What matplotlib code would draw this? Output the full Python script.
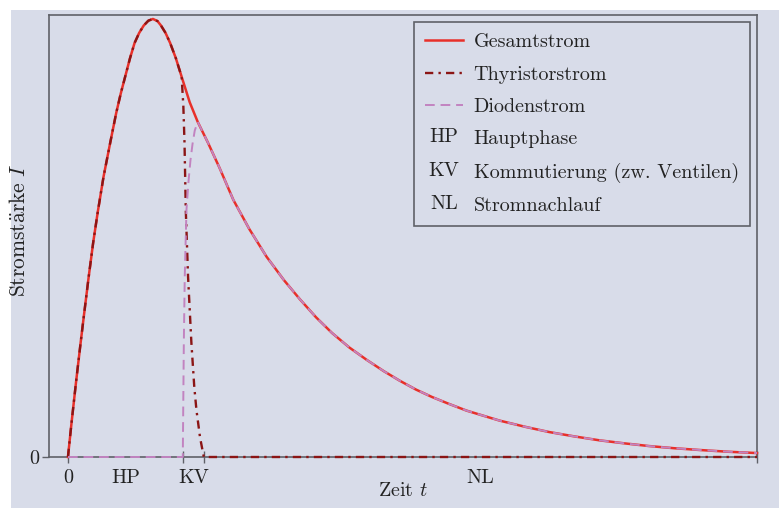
import matplotlib
matplotlib.use("Agg")
import matplotlib.pyplot as plt
import matplotlib.text as mtext
from matplotlib.legend_handler import HandlerBase
from matplotlib.lines import Line2D
from matplotlib.patches import Rectangle

# ==========================================================
# DATA (arbitrary units)
# ==========================================================
gesamt_t = [0.0, 0.03, 0.07, 0.11, 0.14, 0.18, 0.22, 0.26, 0.31, 0.37, 0.42, 0.46,
            0.50, 0.54, 0.58, 0.62, 0.66, 0.70, 0.74, 0.78, 0.81, 0.85, 0.89, 0.94,
            0.99, 1.06, 1.13, 1.22, 1.32, 1.44, 1.58, 1.73, 1.88, 2.02, 2.16, 2.30,
            2.45, 2.60, 2.75, 2.89, 3.03, 3.17, 3.32, 3.47, 3.62, 3.76, 3.98, 4.19,
            4.41, 4.63, 4.85, 5.06, 5.28, 5.50, 5.75, 6.00]
gesamt_i = [0.0, 0.075, 0.17, 0.26, 0.325, 0.41, 0.49, 0.56, 0.64, 0.72, 0.785, 0.83,
            0.87, 0.91, 0.945, 0.968, 0.985, 0.996, 1.0, 0.995, 0.985, 0.968, 0.945, 0.91,
            0.868, 0.81, 0.765, 0.717, 0.66, 0.587, 0.52, 0.457, 0.404, 0.360, 0.319, 0.283,
            0.250, 0.222, 0.196, 0.174, 0.154, 0.137, 0.121, 0.106, 0.094, 0.083, 0.069, 0.057,
            0.047, 0.038, 0.031, 0.025, 0.020, 0.016, 0.012, 0.009]

# thyristor follows the total current up to the start of commutation, then drops
thyr_drop_t = [1.005, 1.015, 1.026, 1.046, 1.075, 1.10, 1.119, 1.15, 1.183, 6.0]
thyr_drop_i = [0.80, 0.717, 0.564, 0.411, 0.26, 0.16, 0.107, 0.045, 0.0, 0.0]

# diode is zero during the main phase, then rises and takes over the total current
diode_rise_t = [0.0, 1.0, 1.009, 1.017, 1.032, 1.05, 1.067, 1.085, 1.104]
diode_rise_i = [0.0, 0.0, 0.26, 0.411, 0.564, 0.63, 0.678, 0.715, 0.745]

kv_start, kv_end, t_end = 1.0, 1.183, 6.0
phase_labels = ["HP", "KV", "NL"]
legend_lines = ["Gesamtstrom", "Thyristorstrom", "Diodenstrom"]
legend_abbrev = ["Hauptphase", "Kommutierung (zw. Ventilen)", "Stromnachlauf"]

BG = "#d8dce9"
RED = "#e8302a"
DARKRED = "#8b1515"
PURPLE = "#c283c0"
GRAY = "#5f6168"
INK = "#222222"
FS = 14.5

plt.rcParams["font.family"] = ["cmr10", "DejaVu Serif"]
plt.rcParams["mathtext.fontset"] = "cm"
plt.rcParams["axes.unicode_minus"] = False


class Abbrev:
    def __init__(self, text):
        self.text = text


class AbbrevHandler(HandlerBase):
    # draws the abbreviation as text in place of a line handle
    def create_artists(self, legend, orig_handle, xdescent, ydescent,
                       width, height, fontsize, trans):
        t = mtext.Text(width / 2 - xdescent, height / 2 - ydescent, orig_handle.text,
                       ha="center", va="center", fontsize=fontsize,
                       color=INK, transform=trans)
        return [t]


fig = plt.figure(figsize=(7.79, 5.08), dpi=100, facecolor=BG)
# white margin of the original screenshot
fig.patches.append(Rectangle((0, 1 - 10 / 508), 1, 10 / 508, transform=fig.transFigure,
                             facecolor="white", edgecolor="none", zorder=-1))
fig.patches.append(Rectangle((0, 0), 11 / 779, 1, transform=fig.transFigure,
                             facecolor="white", edgecolor="none", zorder=-1))

ax = fig.add_axes([49 / 779, 51 / 508, (757 - 49) / 779, (457 - 15) / 508])
ax.set_facecolor(BG)

n_hp = gesamt_t.index(0.99) + 1
thyr_t = gesamt_t[:n_hp] + thyr_drop_t
thyr_i = gesamt_i[:n_hp] + thyr_drop_i
n_np = gesamt_t.index(1.13)
diode_t = diode_rise_t + gesamt_t[n_np:]
diode_i = diode_rise_i + gesamt_i[n_np:]

ax.plot(gesamt_t, gesamt_i, color=RED, lw=1.8, zorder=3, clip_on=False,
        solid_joinstyle="round")
ax.plot(thyr_t, thyr_i, color=DARKRED, lw=1.7, ls=(0, (3.5, 2.2, 1, 2.2)),
        zorder=4, clip_on=False)
ax.plot(diode_t, diode_i, color=PURPLE, lw=1.4, ls=(0, (5, 3)),
        zorder=5, clip_on=False)

ax.set_xlim(-0.165, t_end)
ax.set_ylim(0, 1.009)

# major ticks at phase boundaries, labels in the middle of each phase
ax.set_xticks([0, kv_start, kv_end, t_end])
ax.set_xticklabels(["0", "", "", ""])
ax.set_xticks([kv_start / 2, (kv_start + kv_end) / 2, (kv_end + t_end) / 2], minor=True)
ax.set_xticklabels(phase_labels, minor=True)
ax.tick_params(axis="x", which="major", direction="inout", length=9, width=1,
               color=GRAY, labelsize=FS, pad=4.5)
ax.tick_params(axis="x", which="minor", length=0, labelsize=FS, pad=9)
ax.set_yticks([0])
ax.tick_params(axis="y", direction="out", length=5, width=1, color=GRAY,
               labelsize=FS, pad=2)
for lab in ax.get_xticklabels(which="both") + ax.get_yticklabels():
    lab.set_color(INK)

for sp in ax.spines.values():
    sp.set_color(GRAY)
    sp.set_linewidth(1.2)

ax.set_xlabel("Zeit $t$", fontsize=FS, color=INK, labelpad=-4)
ax.set_ylabel(r"$\mathrm{Stromst\ddot{a}rke}\ I$", fontsize=FS + 1, color=INK)
ax.yaxis.set_label_coords(-0.028, 0.513)

handles = [Line2D([], [], color=RED, lw=1.8),
           Line2D([], [], color=DARKRED, lw=1.7, ls=(0, (3.5, 2.2, 1, 2.2))),
           Line2D([], [], color=PURPLE, lw=1.4, ls=(0, (5, 3)))]
handles += [Abbrev(a) for a in phase_labels]
labels = legend_lines + legend_abbrev

leg = ax.legend(handles, labels, loc="upper right", fontsize=FS,
                handler_map={Abbrev: AbbrevHandler()},
                handlelength=1.85, handletextpad=0.55, labelspacing=0.71,
                borderaxespad=0.35, borderpad=0.55, fancybox=False,
                framealpha=1, facecolor=BG, edgecolor=GRAY)
leg.get_frame().set_linewidth(1.2)
for txt in leg.get_texts():
    txt.set_color(INK)

fig.savefig("out.png", dpi=100, facecolor=BG)
